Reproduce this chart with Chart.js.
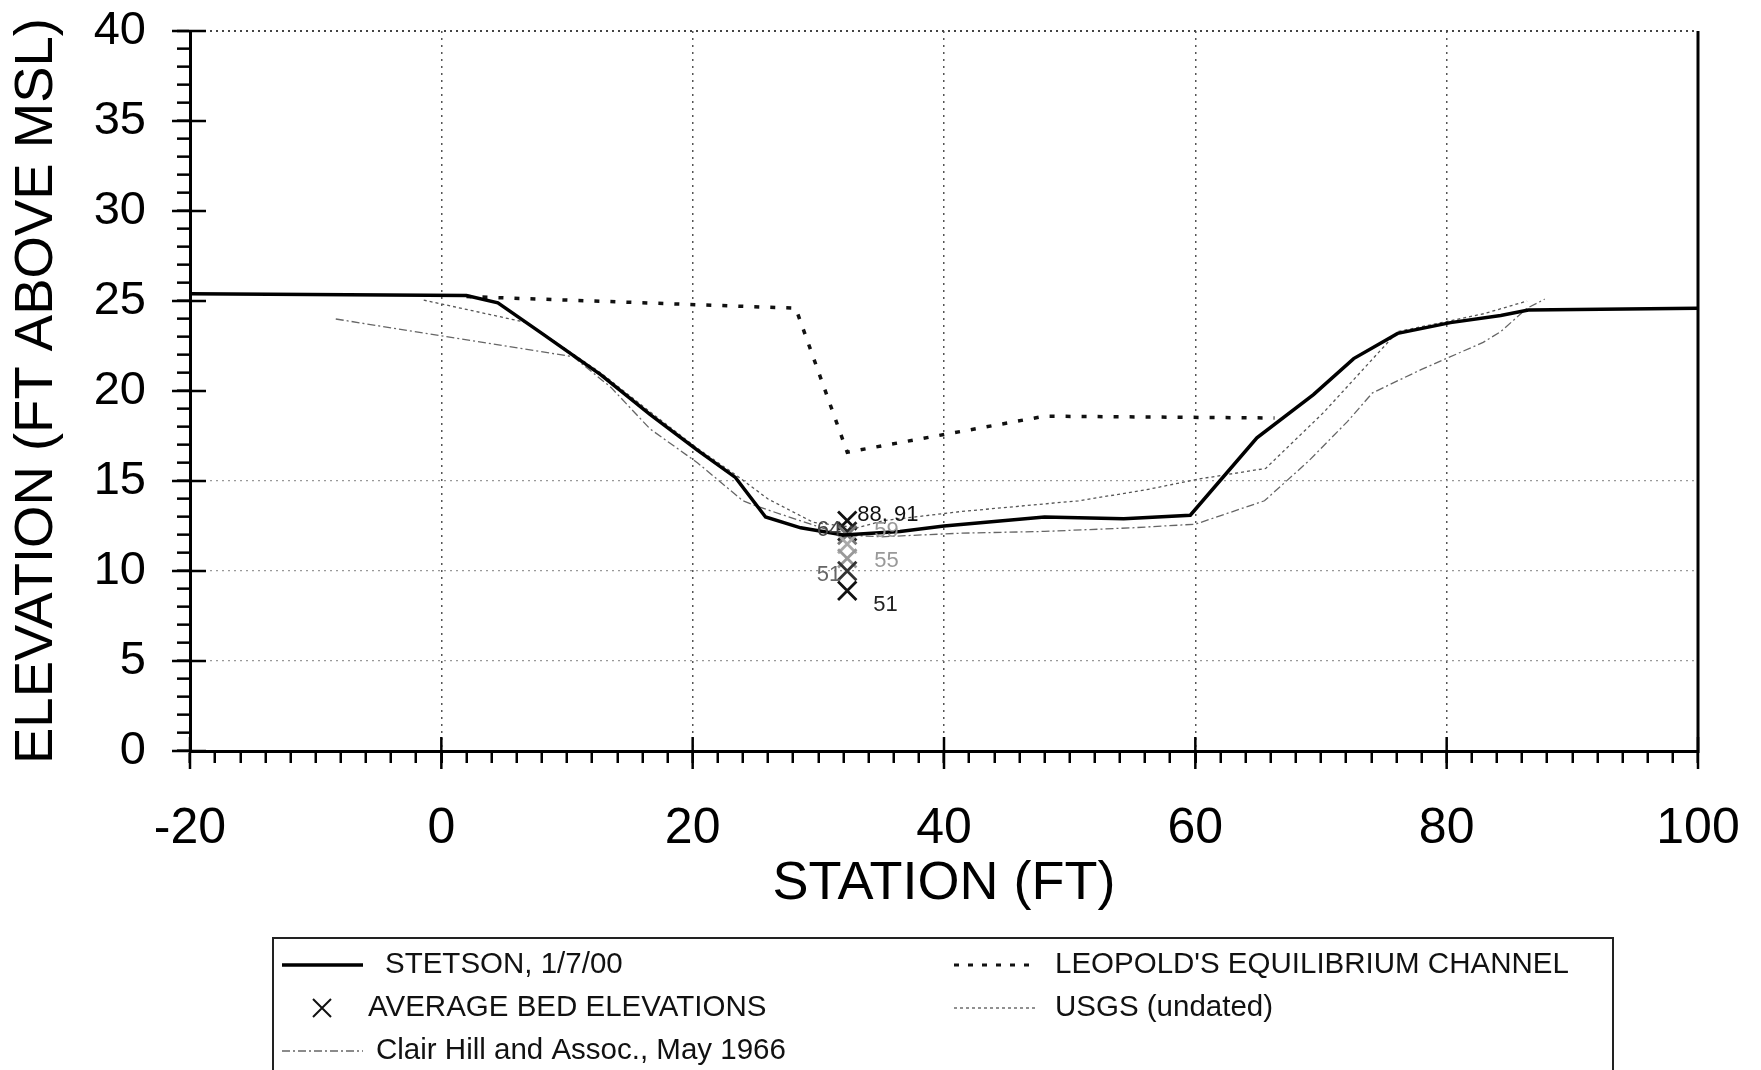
<!DOCTYPE html>
<html>
<head>
<meta charset="utf-8">
<script src="https://cdn.jsdelivr.net/npm/chart.js@4"></script>
<style>
  body { margin: 0; background: #fff; }
  #wrap { width: 1761px; height: 1070px; position: relative; }
</style>
</head>
<body>
<div id="wrap"><canvas id="perfil"></canvas></div>
<script>
// secao transversal
var stetsonX = [-20, 2, 4.5, 8, 12.7, 16.6, 20.4, 23.4, 25.8, 28.6, 32.0, 36.5, 40, 48, 54.3, 59.6, 64.9, 69.4, 72.6, 76.1, 80.3, 84.3, 86.5, 100];
var stetsonY = [25.4, 25.3, 24.9, 23.2, 20.9, 18.7, 16.7, 15.2, 13.0, 12.4, 12.0, 12.2, 12.5, 13.0, 12.9, 13.1, 17.4, 19.8, 21.8, 23.2, 23.8, 24.2, 24.5, 24.6];

var leopoldX = [2, 28.2, 32.3, 48, 66.3];
var leopoldY = [25.25, 24.6, 16.6, 18.6, 18.5];

var clairX = [-8.4, 10.5, 13.5, 16.6, 20.4, 24.0, 25.1, 29.4, 32.0, 35.0, 41.3, 48, 55, 60, 65.5, 69, 72.1, 74.1, 78, 82.9, 84.3, 86.4, 87.8];
var clairY = [24.0, 21.9, 20.2, 17.9, 16.0, 13.9, 13.6, 12.6, 12.0, 11.9, 12.1, 12.2, 12.4, 12.6, 13.9, 16.1, 18.3, 19.9, 21.2, 22.7, 23.3, 24.6, 25.1];

var usgsX = [-1.4, 6.8, 12.7, 16.5, 20.4, 23.5, 26.0, 29.6, 33.1, 35.2, 41.3, 50.7, 56, 60.2, 65.6, 70.2, 76.1, 80.3, 83, 86.4];
var usgsY = [25.05, 23.8, 21.0, 18.9, 16.8, 15.3, 14.0, 12.7, 12.4, 12.8, 13.3, 13.9, 14.5, 15.1, 15.7, 18.8, 23.3, 23.9, 24.3, 25.0];

var leitoX = [32.3, 32.3, 32.3, 32.3, 32.3, 32.3, 32.3];
var leitoY = [12.8, 12.2, 12.0, 11.5, 10.7, 10.0, 8.9];
var leitoLabels = ['88, 91', '64', '59', '', '55', '51', '51'];

var xTicks = [-20, 0, 20, 40, 60, 80, 100];
var yTicks = [0, 5, 10, 15, 20, 25, 30, 35, 40];

var legendas = ['STETSON, 1/7/00', "LEOPOLD'S EQUILIBRIUM CHANNEL", 'AVERAGE BED ELEVATIONS', 'USGS (undated)', 'Clair Hill and Assoc., May 1966'];

function pontos(xs, ys) {
    return xs.map(function (x, i) { return { x: x, y: ys[i] }; });
}

// estilo dos rotulos dos pontos (dx, dy, alinhamento, cor)
var rotuloEstilo = [
    [10, -6, 'left', '#111'],
    [-6, -1, 'right', '#444'],
    [27, -4, 'left', '#999'],
    [0, 0, 'left', '#999'],
    [27, 3, 'left', '#999'],
    [-6, 4, 'right', '#666'],
    [26, 14, 'left', '#222']
];
var corMarcador = ['#111', '#222', '#777', '#aaa', '#999', '#333', '#111'];

var molduraPlugin = {
    id: 'moldura',
    afterDraw: function (chart) {
        var ctx = chart.ctx;
        var area = chart.chartArea;
        var sx = chart.scales.x;
        var sy = chart.scales.y;
        ctx.save();
        ctx.strokeStyle = '#000';
        // borda direita
        ctx.lineWidth = 3;
        ctx.beginPath();
        ctx.moveTo(area.right, area.top);
        ctx.lineTo(area.right, area.bottom + 2);
        ctx.stroke();
        // ticks maiores
        ctx.lineWidth = 2.5;
        yTicks.forEach(function (v) {
            var py = sy.getPixelForValue(v);
            ctx.beginPath();
            ctx.moveTo(area.left - 18, py);
            ctx.lineTo(area.left + 16, py);
            ctx.stroke();
        });
        xTicks.forEach(function (v) {
            var px = sx.getPixelForValue(v);
            ctx.beginPath();
            ctx.moveTo(px, area.bottom - 14);
            ctx.lineTo(px, area.bottom + 18);
            ctx.stroke();
        });

        // rotulos das elevacoes medias
        ctx.font = '22px "Liberation Sans", Arial, sans-serif';
        ctx.textBaseline = 'middle';
        leitoLabels.forEach(function (txt, i) {
            if (!txt) return;
            var px = sx.getPixelForValue(leitoX[i]);
            var py = sy.getPixelForValue(leitoY[i]);
            var e = rotuloEstilo[i];
            ctx.fillStyle = e[3];
            ctx.textAlign = e[2];
            ctx.fillText(txt, px + e[0], py + e[1]);
        });

        // legenda
        var bx = 273, by = 938, bw = 1340, bh = 150;
        ctx.lineWidth = 2;
        ctx.strokeStyle = '#222';
        ctx.strokeRect(bx, by, bw, bh);
        ctx.font = '29.5px "Liberation Sans", Arial, sans-serif';
        ctx.fillStyle = '#111';
        ctx.textAlign = 'left';
        var linhas = [965, 1008, 1051];

        function amostra(x1, x2, y, largura, cor, dash) {
            ctx.save();
            ctx.lineWidth = largura;
            ctx.strokeStyle = cor;
            ctx.setLineDash(dash);
            ctx.beginPath();
            ctx.moveTo(x1, y);
            ctx.lineTo(x2, y);
            ctx.stroke();
            ctx.restore();
        }
        amostra(282, 363, linhas[0], 3.5, '#000', []);
        ctx.fillText(legendas[0], 385, linhas[0]);
        amostra(954, 1036, linhas[0], 3, '#111', [5, 9]);
        ctx.fillText(legendas[1], 1055, linhas[0]);

        ctx.save();
        ctx.lineWidth = 2;
        ctx.strokeStyle = '#111';
        ctx.beginPath();
        ctx.moveTo(313, linhas[1] - 9); ctx.lineTo(331, linhas[1] + 9);
        ctx.moveTo(331, linhas[1] - 9); ctx.lineTo(313, linhas[1] + 9);
        ctx.stroke();
        ctx.restore();
        ctx.fillText(legendas[2], 368, linhas[1]);
        amostra(954, 1036, linhas[1], 1.3, '#555', [3, 3]);
        ctx.fillText(legendas[3], 1055, linhas[1]);

        amostra(282, 363, linhas[2], 1.3, '#666', [8, 3, 2, 3]);
        ctx.fillText(legendas[4], 376, linhas[2]);
        ctx.restore();
    }
};

var ctxPerfil = document.getElementById('perfil').getContext('2d');

var graficoPerfil = new Chart(ctxPerfil, {
    type: 'line',
    data: {
        datasets: [
            {
                label: legendas[0],
                data: pontos(stetsonX, stetsonY),
                borderColor: '#000',
                borderWidth: 3.5,
                pointRadius: 0,
                tension: 0
            },
            {
                label: legendas[1],
                data: pontos(leopoldX, leopoldY),
                borderColor: '#111',
                borderWidth: 3.5,
                borderDash: [5, 11],
                pointRadius: 0
            },
            {
                label: legendas[3],
                data: pontos(usgsX, usgsY),
                borderColor: '#555',
                borderWidth: 1.3,
                borderDash: [3, 3],
                pointRadius: 0
            },
            {
                label: legendas[4],
                data: pontos(clairX, clairY),
                borderColor: '#666',
                borderWidth: 1.3,
                borderDash: [8, 3, 2, 3],
                pointRadius: 0
            },
            {
                label: legendas[2],
                data: pontos(leitoX, leitoY),
                showLine: false,
                pointStyle: 'crossRot',
                pointRadius: 13,
                pointBorderWidth: 2.8,
                pointBorderColor: function (c) { return corMarcador[c.dataIndex] || '#111'; }
            }
        ]
    },
    options: {
        responsive: true,
        maintainAspectRatio: false,
        animation: false,
        devicePixelRatio: 1,
        layout: { padding: { left: 0, top: 31, right: 63, bottom: 150 } },
        plugins: {
            legend: { display: false },
            tooltip: { enabled: false }
        },
        scales: {
            x: {
                type: 'linear',
                min: -20,
                max: 100,
                afterFit: function (s) {
                    s.height = 169;
                    s.paddingLeft = 0;
                    s.paddingRight = 0;
                },
                border: { color: '#000', width: 3, dash: [2, 5] },
                grid: {
                    color: function (c) {
                        var v = c.tick ? c.tick.value : null;
                        return (v % 20 === 0 && v > -20 && v < 100) ? '#555' : 'rgba(0,0,0,0)';
                    },
                    lineWidth: 1.5,
                    tickColor: '#000',
                    tickWidth: 2.5,
                    tickLength: 12
                },
                ticks: {
                    stepSize: 2,
                    autoSkip: false,
                    maxRotation: 0,
                    padding: 36,
                    color: '#000',
                    font: { family: '"Liberation Sans", Arial, sans-serif', size: 50 },
                    callback: function (v) { return v % 20 === 0 ? v : ''; }
                },
                title: {
                    display: true,
                    text: 'STATION (FT)',
                    color: '#000',
                    font: { family: '"Liberation Sans", Arial, sans-serif', size: 54 },
                    padding: { top: 0, bottom: 3 }
                }
            },
            y: {
                type: 'linear',
                min: 0,
                max: 40,
                afterFit: function (s) {
                    s.width = 190;
                    s.paddingTop = 0;
                    s.paddingBottom = 0;
                },
                border: { color: '#000', width: 3, dash: [2, 4] },
                grid: {
                    color: function (c) {
                        var v = c.tick ? c.tick.value : null;
                        if (v === 5 || v === 10 || v === 15) return '#999';
                        if (v === 40) return '#444';
                        return 'rgba(0,0,0,0)';
                    },
                    lineWidth: function (c) { return c.tick && c.tick.value === 40 ? 2 : 1.3; },
                    tickColor: '#000',
                    tickWidth: 2.5,
                    tickLength: 13
                },
                ticks: {
                    stepSize: 1,
                    autoSkip: false,
                    padding: 31,
                    color: '#000',
                    font: { family: '"Liberation Sans", Arial, sans-serif', size: 47 },
                    callback: function (v) { return v % 5 === 0 ? v : ''; }
                },
                title: {
                    display: true,
                    text: 'ELEVATION (FT ABOVE MSL)',
                    color: '#000',
                    font: { family: '"Liberation Sans", Arial, sans-serif', size: 54.5 },
                    padding: { top: 4, bottom: 0 }
                }
            }
        }
    },
    plugins: [molduraPlugin]
});
</script>
</body>
</html>
